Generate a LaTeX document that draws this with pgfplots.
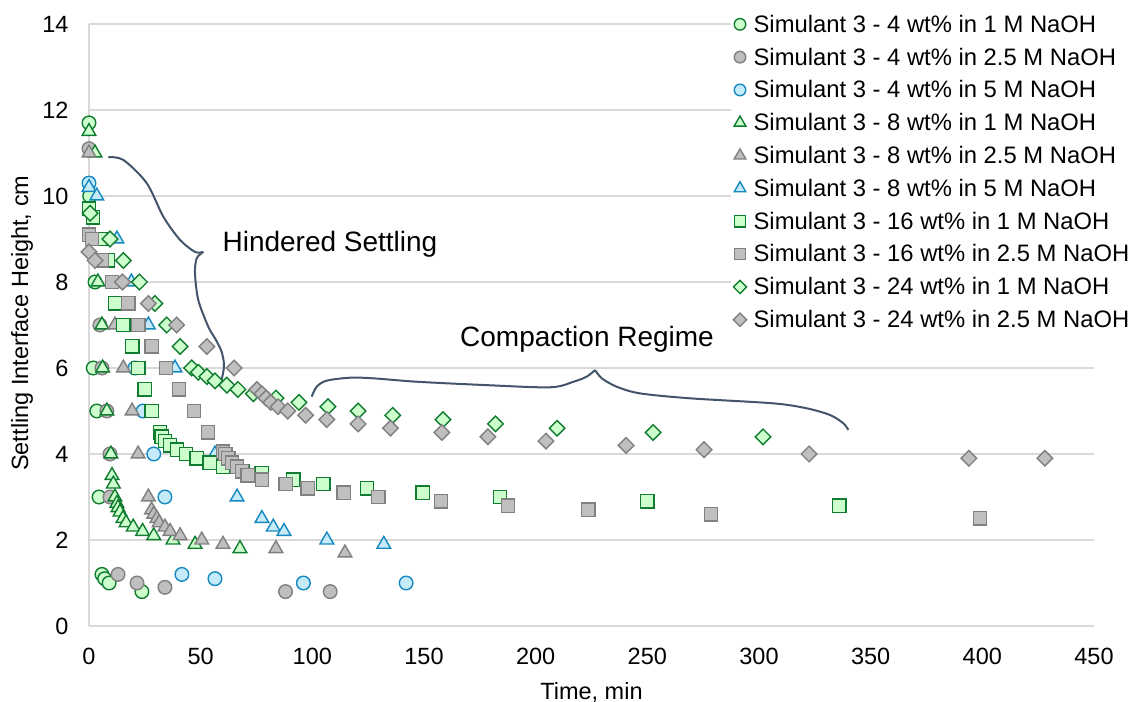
\documentclass[border=0pt]{standalone}
\usepackage{fontspec}
\setmainfont{Liberation Sans}
\usepackage{pgfplots}
\pgfplotsset{compat=1.18}
\definecolor{gE}{RGB}{16,124,48}
\definecolor{gF}{RGB}{204,255,204}
\definecolor{kE}{RGB}{128,128,128}
\definecolor{kF}{RGB}{191,191,191}
\definecolor{bE}{RGB}{21,137,191}
\definecolor{bF}{RGB}{197,235,250}
\definecolor{gridC}{RGB}{217,217,217}
\definecolor{braceC}{RGB}{68,84,106}
\begin{document}
\begin{tikzpicture}[font=\fontsize{23.5bp}{28bp}\selectfont]
\begin{axis}[
  at={(0,0)}, anchor=south west,
  scale only axis, width=1005bp, height=602bp,
  xmin=0, xmax=450, ymin=0, ymax=14,
  xtick={0,50,...,450}, ytick={0,2,...,14},
  axis x line*=bottom, axis y line*=left,
  axis line style={draw=gridC, line width=1.3bp},
  ymajorgrids, grid style={draw=gridC, line width=1.3bp},
  major tick length=0pt,
  /pgf/number format/assume math mode=true,
  xticklabel style={yshift=-19bp},
  yticklabel style={xshift=-17bp},
  xlabel={Time, min}, ylabel={Settling Interface Height, cm},
  xlabel style={at={(axis description cs:0.5,0)}, anchor=center, yshift=-66bp},
  ylabel style={at={(axis description cs:0,0.503)}, anchor=center, yshift=67bp},
  legend style={at={(axis description cs:0.639,1.022)}, anchor=north west,
    draw=none, fill=white, font=\fontsize{23.8bp}{28bp}\selectfont,
    row sep=10.1bp, column sep=5bp, inner xsep=2bp},
  legend cell align=left,
  legend image code/.code={\draw[#1, /tikz/every mark/.append style={scale=0.85}] plot coordinates {(0bp,0bp)};},
  only marks,
]
% 4 wt% 1 M
\addplot[mark=*, mark size=6.8bp, mark options={draw=gE, fill=gF, line width=1.4bp}] coordinates {
(0,11.7) (0.3,10.0) (2.7,8.0) (1.9,6.0) (3.5,5.0) (4.5,3.0) (5.8,1.2) (7,1.1) (9,1.0) (23.7,0.8)};
\addlegendentry{Simulant 3 - 4 wt\% in 1 M NaOH}
% 4 wt% 2.5 M
\addplot[mark=*, mark size=6.8bp, mark options={draw=kE, fill=kF, line width=1.4bp}] coordinates {
(0,11.1) (4.9,7.0) (5.8,6.0) (8,5.0) (9.4,4.0) (9.4,3.0) (13,1.2) (21.5,1.0) (34,0.9) (88,0.8) (108,0.8)};
\addlegendentry{Simulant 3 - 4 wt\% in 2.5 M NaOH}
% 4 wt% 5 M
\addplot[mark=*, mark size=6.8bp, mark options={draw=bE, fill=bF, line width=1.4bp}] coordinates {
(0,10.3) (20.6,6.0) (24.2,5.0) (29,4.0) (34,3.0) (41.6,1.2) (56.4,1.1) (96,1.0) (142,1.0)};
\addlegendentry{Simulant 3 - 4 wt\% in 5 M NaOH}
% 8 wt% 1 M
\addplot[mark=triangle*, mark size=7.9bp, mark options={draw=gE, fill=gF, line width=1.4bp}] coordinates {
(0,11.5) (2.7,11.0) (4,8.0) (5.8,7.0) (6.1,6.0) (8,5.0) (9.8,4.0) (10.3,3.5) (10.9,3.3) (11.6,3.0) (12.5,2.85) (13,2.75) (13.9,2.65) (15.2,2.5) (16.6,2.4) (19.8,2.3) (24,2.2) (29,2.1) (37.6,2.0) (47.5,1.9) (67.6,1.8)};
\addlegendentry{Simulant 3 - 8 wt\% in 1 M NaOH}
% 8 wt% 2.5 M
\addplot[mark=triangle*, mark size=7.9bp, mark options={draw=kE, fill=kF, line width=1.4bp}] coordinates {
(0,11.0) (11.6,7.0) (15.4,6.0) (19.3,5.0) (22,4.0) (26.6,3.0) (28,2.7) (29,2.6) (30.4,2.5) (31.4,2.4) (34,2.3) (36.3,2.2) (40.8,2.1) (50.5,2.0) (60,1.9) (83.7,1.8) (114.6,1.7)};
\addlegendentry{Simulant 3 - 8 wt\% in 2.5 M NaOH}
% 8 wt% 5 M
\addplot[mark=triangle*, mark size=7.9bp, mark options={draw=bE, fill=bF, line width=1.4bp}] coordinates {
(0,10.2) (3.5,10.0) (12.5,9.0) (19,8.0) (26.6,7.0) (38.5,6.0) (56.4,4.0) (66.3,3.0) (77.4,2.5) (82.5,2.3) (87.3,2.2) (106.5,2.0) (132,1.9)};
\addlegendentry{Simulant 3 - 8 wt\% in 5 M NaOH}
% 16 wt% 1 M
\addplot[mark=square*, mark size=6.7bp, mark options={draw=gE, fill=gF, line width=1.4bp}] coordinates {
(0,9.7) (1.8,9.5) (5,9.0) (8.5,8.5) (11.6,7.5) (15.4,7.0) (19.3,6.5) (22,6.0) (25,5.5) (28,5.0) (31.8,4.5) (32.6,4.4) (34,4.3) (36.3,4.2) (39.4,4.1) (43.4,4.0) (48.3,3.9) (54,3.8) (60,3.7) (69,3.6) (77.4,3.55) (91.4,3.4) (105,3.3) (124.5,3.2) (149.5,3.1) (184,3.0) (250,2.9) (336,2.8)};
\addlegendentry{Simulant 3 - 16 wt\% in 1 M NaOH}
% 16 wt% 2.5 M
\addplot[mark=square*, mark size=6.7bp, mark options={draw=kE, fill=kF, line width=1.4bp}] coordinates {
(0,9.1) (1.3,9.0) (5.8,8.5) (10.3,8.0) (17.6,7.5) (22,7.0) (28,6.5) (34.5,6.0) (40.3,5.5) (47,5.0) (53.3,4.5) (60,4.05) (61,4.0) (62.3,3.9) (64,3.8) (66.3,3.7) (68.5,3.6) (71,3.5) (77.5,3.4) (88,3.3) (98,3.2) (114,3.1) (129.5,3.0) (157.6,2.9) (187.6,2.8) (223.5,2.7) (278.5,2.6) (399,2.5)};
\addlegendentry{Simulant 3 - 16 wt\% in 2.5 M NaOH}
% 24 wt% 1 M
\addplot[mark=square*, mark size=5.5bp, mark options={rotate=45, draw=gE, fill=gF, line width=1.4bp}] coordinates {
(0.5,9.6) (9.4,9.0) (15.4,8.5) (22.6,8.0) (29.5,7.5) (34.8,7.0) (40.8,6.5) (46,6.0) (49,5.9) (52.8,5.8) (56.4,5.7) (61.7,5.6) (66.7,5.5) (73.6,5.4) (83.7,5.3) (94,5.2) (107,5.1) (120.5,5.0) (136,4.9) (158.5,4.8) (182,4.7) (209.6,4.6) (252.6,4.5) (301.8,4.4)};
\addlegendentry{Simulant 3 - 24 wt\% in 1 M NaOH}
% 24 wt% 2.5 M
\addplot[mark=square*, mark size=5.5bp, mark options={rotate=45, draw=kE, fill=kF, line width=1.4bp}] coordinates {
(0,8.7) (2.7,8.5) (15,8.0) (26.6,7.5) (39.2,7.0) (52.8,6.5) (65,6.0) (75.2,5.5) (77.4,5.4) (79.3,5.3) (81.4,5.2) (84.7,5.1) (89,5.0) (97,4.9) (106.5,4.8) (120.5,4.7) (135,4.6) (158,4.5) (178.6,4.4) (204.6,4.3) (240.5,4.2) (275.4,4.1) (322.4,4.0) (394,3.9) (428,3.9)};
\addlegendentry{Simulant 3 - 24 wt\% in 2.5 M NaOH}
% braces
\addplot[forget plot, no marks, smooth, tension=0.5, draw=braceC, line width=2bp] coordinates {
(8.64,10.90) (15.36,10.84) (25.84,10.30) (33.27,9.52) (40.75,8.98) (47.46,8.70) (51.18,8.70)};
\addplot[forget plot, no marks, smooth, tension=0.5, draw=braceC, line width=2bp] coordinates {
(51.18,8.70) (48.22,8.55) (47.46,8.20) (48.94,7.58) (53.42,6.96) (56.87,6.65) (59.42,6.37) (60.45,6.03) (58.66,5.57)};
\addplot[forget plot, no marks, smooth, tension=0.5, draw=braceC, line width=2bp] coordinates {
(99.7,5.333) (101.96,5.565) (106.4,5.705) (116.9,5.774) (127.3,5.760) (146.7,5.681) (176.6,5.605) (206.4,5.551) (216.9,5.68) (222.9,5.80) (226.6,5.953)};
\addplot[forget plot, no marks, smooth, tension=0.5, draw=braceC, line width=2bp] coordinates {
(226.6,5.953) (229.6,5.76) (236.3,5.565) (246.7,5.41) (269.1,5.295) (306.4,5.178) (321.4,5.062) (331.8,4.907) (337.8,4.713) (340,4.558)};
\node[anchor=base, font=\fontsize{28bp}{32bp}\selectfont] at (axis cs:107.9,8.72) {Hindered Settling};
\node[anchor=base, font=\fontsize{28bp}{32bp}\selectfont] at (axis cs:223,6.49) {Compaction Regime};
\end{axis}
\pgfresetboundingbox
\path (-89bp,-76bp) rectangle (1046bp,626bp);
\end{tikzpicture}
\end{document}
